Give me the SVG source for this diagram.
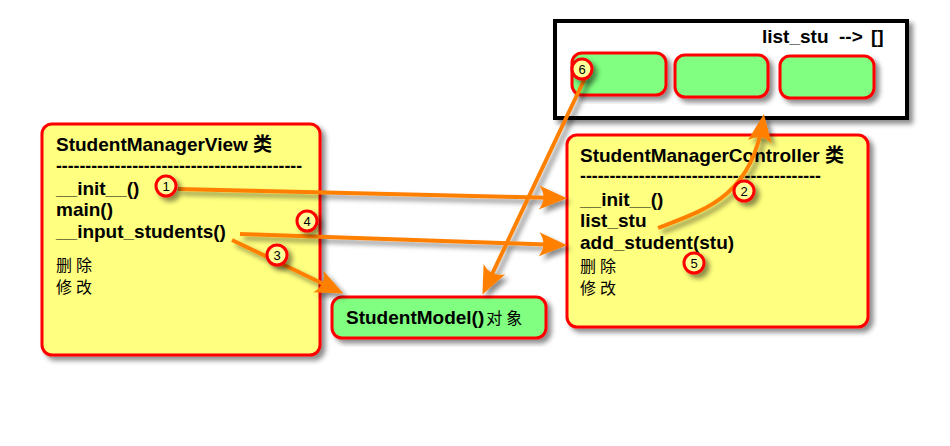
<svg xmlns="http://www.w3.org/2000/svg" width="950" height="446" viewBox="0 0 950 446">
<style>
.yb{fill:#ffff80;stroke:#ff0000;stroke-width:3}
.gb{fill:#80ff80;stroke:#ff0000;stroke-width:3}
.t{font-family:"Liberation Sans","Noto Sans CJK SC",sans-serif;font-size:19px;font-weight:bold;fill:#000}
.c{font-family:"Noto Sans CJK SC",sans-serif;font-size:16px;font-weight:normal;fill:#000;letter-spacing:4px}
.ar{fill:none;stroke:#ff8000;stroke-width:4}
.bd{fill:#ffff99;stroke:#ff0000;stroke-width:3}
.bn{font-family:"Liberation Sans",sans-serif;font-size:13px;text-anchor:middle;fill:#000}
</style>
<defs>
<filter id="sh" x="-20%" y="-20%" width="140%" height="140%">
<feDropShadow dx="4" dy="4" stdDeviation="2.5" flood-color="#000" flood-opacity="0.45"/>
</filter>
<marker id="ah" markerUnits="userSpaceOnUse" markerWidth="40" markerHeight="40" refX="0" refY="0" orient="auto" overflow="visible">
<path d="M6,0 L-22,-12 Q-13,0 -22,12 Z" fill="#ff8000"/>
</marker>
</defs>
<rect width="950" height="446" fill="#fff"/>

<g id="list">
<rect x="555" y="21" width="352" height="97" fill="#fff" stroke="#000" stroke-width="4" filter="url(#sh)"/>
<text class="t" x="762" y="43">list_stu</text>
<text class="t" x="839" y="43">--&gt;</text>
<text class="t" x="871" y="43">[]</text>
</g>
<g id="item1"><rect class="gb" x="572" y="53" width="94" height="42" rx="10" filter="url(#sh)"/></g>
<g id="item2"><rect class="gb" x="675" y="55" width="93" height="42" rx="10" filter="url(#sh)"/></g>
<g id="item3"><rect class="gb" x="780" y="56" width="94" height="42" rx="10" filter="url(#sh)"/></g>

<g id="view">
<rect class="yb" x="42" y="124" width="278" height="231" rx="10" filter="url(#sh)"/>
<text class="t" x="56" y="151">StudentManagerView 类</text>
<text class="t" x="56" y="172" textLength="246" lengthAdjust="spacingAndGlyphs">------------------------------------------</text>
<text class="t" x="56" y="195">__init__()</text>
<text class="t" x="56" y="216">main()</text>
<text class="t" x="56" y="238">__input_students()</text>
<text class="c" x="56" y="271">删除</text>
<text class="c" x="56" y="293">修改</text>
</g>

<g id="controller">
<rect class="yb" x="567" y="135" width="301" height="192" rx="10" filter="url(#sh)"/>
<text class="t" x="580" y="162">StudentManagerController 类</text>
<text class="t" x="580" y="182" textLength="241" lengthAdjust="spacingAndGlyphs">-----------------------------------------</text>
<text class="t" x="580" y="206">__init__()</text>
<text class="t" x="580" y="227">list_stu</text>
<text class="t" x="580" y="249">add_student(stu)</text>
<text class="c" x="580" y="272">删除</text>
<text class="c" x="580" y="294">修改</text>
</g>

<g id="model">
<rect class="gb" x="332" y="297" width="214" height="41" rx="10" filter="url(#sh)"/>
<text class="t" x="346" y="324">StudentModel()<tspan class="c" dx="2">对象</tspan></text>
</g>

<g id="connectors" filter="url(#sh)">
<path class="ar" d="M178,189 L561,198" marker-end="url(#ah)"/>
<path class="ar" d="M240,234 L561,245" marker-end="url(#ah)"/>
<path class="ar" d="M232,240 L338,291" marker-end="url(#ah)"/>
<path class="ar" d="M658,228 C705,210 752,196 763,120" marker-end="url(#ah)"/>
<path class="ar" d="M586,76 L485,289" marker-end="url(#ah)"/>
</g>

<g id="badges">
<g filter="url(#sh)">
<circle class="bd" cx="166" cy="186" r="10"/>
<circle class="bd" cx="744" cy="191" r="10"/>
<circle class="bd" cx="277" cy="255" r="10"/>
<circle class="bd" cx="307" cy="221" r="10"/>
<circle class="bd" cx="694" cy="263" r="10"/>
<circle class="bd" cx="582" cy="69" r="10"/>
</g>
<text class="bn" x="166" y="191">1</text>
<text class="bn" x="744" y="196">2</text>
<text class="bn" x="277" y="260">3</text>
<text class="bn" x="307" y="226">4</text>
<text class="bn" x="694" y="268">5</text>
<text class="bn" x="582" y="74">6</text>
</g>
</svg>
